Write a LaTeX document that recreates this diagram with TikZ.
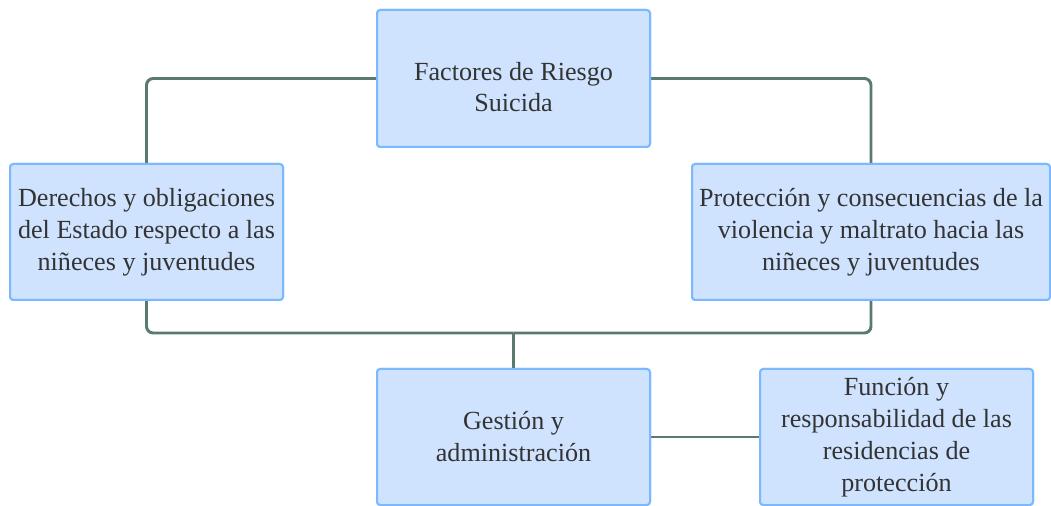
\documentclass[tikz,border=0pt]{standalone}
\usepackage{fontspec}
\setmainfont{Liberation Serif}
\newfontfamily\boxfont{Liberation Serif}
\usetikzlibrary{positioning}

\definecolor{boxfill}{HTML}{CFE3FF}
\definecolor{boxline}{HTML}{7AB8FF}
\definecolor{linkline}{HTML}{5A7A6E}
\definecolor{boxtext}{HTML}{333333}

\begin{document}
\begin{tikzpicture}[x=0.75pt,y=-0.75pt,
    box/.style = {draw=boxline, fill=boxfill, line width=1.5pt, rounded corners=2.5pt,
      text=boxtext, align=center, inner sep=0pt, minimum width=204.75pt, minimum height=102pt,
      font=\boxfont\fontsize{19.6}{24}\selectfont},
    link/.style = {draw=linkline, line width=2.2pt, rounded corners=5pt}]
    \useasboundingbox (0,0) rectangle (1051,506);
        % boxes
        \node[box, minimum height=102.75pt] (riesgo) at (513.5,78.5) {\rule{0pt}{26pt}Factores de Riesgo\\[-1pt]Suicida};
        \node[box] (derechos) at (146.5,232) {Derechos y obligaciones\\del Estado respecto a las\\niñeces y juventudes};
        \node[box, minimum width=268.5pt] (proteccion) at (871,232) {Protección y consecuencias de la\\violencia y maltrato hacia las\\niñeces y juventudes};
        \node[box] (gestion) at (513.5,437) {Gestión y\\administración};
        \node[box] (funcion) at (896.5,437) {Función y\\responsabilidad de las\\residencias de\\protección};
        \coordinate (union) at (513.5,333);
        % connectors
        \draw[link] (riesgo.west) -| (derechos.north);
        \draw[link] (riesgo.east) -| (proteccion.north);
        \draw[link] (derechos.south) |- (union);
        \draw[link] (proteccion.south) |- (union);
        \draw[link] (union) -- (gestion.north);
        \draw[link] (gestion.east) -- (funcion.west);
        % boxes on top of the line ends
        \node[box, minimum height=102.75pt] at (riesgo) {\rule{0pt}{26pt}Factores de Riesgo\\[-1pt]Suicida};
        \node[box] at (derechos) {Derechos y obligaciones\\del Estado respecto a las\\niñeces y juventudes};
        \node[box, minimum width=268.5pt] at (proteccion) {Protección y consecuencias de la\\violencia y maltrato hacia las\\niñeces y juventudes};
        \node[box] at (gestion) {Gestión y\\administración};
        \node[box] at (funcion) {Función y\\responsabilidad de las\\residencias de\\protección};
\end{tikzpicture}
\end{document}
